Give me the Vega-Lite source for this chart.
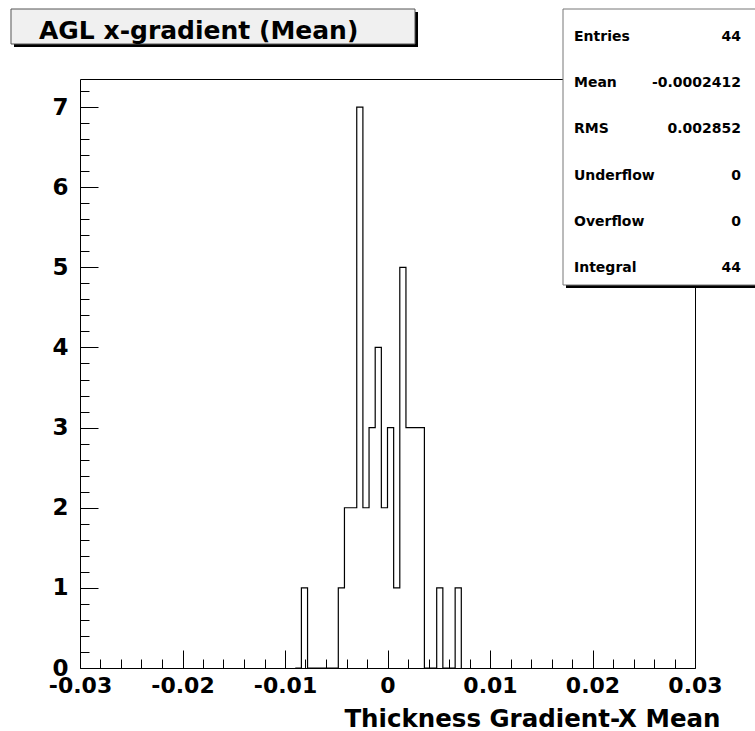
{
  "$schema": "https://vega.github.io/schema/vega-lite/v6.json",
  "width": 615,
  "height": 589,
  "autosize": {"type": "none"},
  "padding": {"left": 80, "top": 79, "right": 60, "bottom": 63},
  "background": "white",
  "config": {
    "view": {"stroke": "black", "strokeWidth": 1},
    "font": "DejaVu Sans"
  },
  "resolve": {"axis": {"x": "independent", "y": "independent"}},
  "layer": [
    {
      "data": {"values": [
        {"x": -0.0090, "n": 0},
        {"x": -0.0084, "n": 1},
        {"x": -0.0078, "n": 0},
        {"x": -0.0072, "n": 0},
        {"x": -0.0066, "n": 0},
        {"x": -0.0060, "n": 0},
        {"x": -0.0054, "n": 0},
        {"x": -0.0048, "n": 1},
        {"x": -0.0042, "n": 2},
        {"x": -0.0036, "n": 2},
        {"x": -0.0030, "n": 7},
        {"x": -0.0024, "n": 2},
        {"x": -0.0018, "n": 3},
        {"x": -0.0012, "n": 4},
        {"x": -0.0006, "n": 2},
        {"x": 0.0000, "n": 3},
        {"x": 0.0006, "n": 1},
        {"x": 0.0012, "n": 5},
        {"x": 0.0018, "n": 3},
        {"x": 0.0024, "n": 3},
        {"x": 0.0030, "n": 3},
        {"x": 0.0036, "n": 0},
        {"x": 0.0042, "n": 0},
        {"x": 0.0048, "n": 1},
        {"x": 0.0054, "n": 0},
        {"x": 0.0060, "n": 0},
        {"x": 0.0066, "n": 1},
        {"x": 0.0072, "n": 0}
      ]},
      "mark": {"type": "line", "interpolate": "step-after", "color": "black", "strokeWidth": 1.2},
      "encoding": {
        "x": {
          "field": "x", "type": "quantitative",
          "scale": {"domain": [-0.03, 0.03], "nice": false, "zero": false},
          "axis": {
            "title": "Thickness Gradient-X Mean",
            "titleFont": "DejaVu Sans", "titleFontWeight": "bold", "titleFontSize": 24.5, "titleColor": "black",
            "titleAnchor": "end", "titleAlign": "right", "titleBaseline": "alphabetic",
            "titleX": 640, "titleY": 58,
            "domain": false, "grid": false,
            "values": [-0.03, -0.028, -0.026, -0.024, -0.022, -0.02, -0.018, -0.016, -0.014, -0.012, -0.01, -0.008, -0.006, -0.004, -0.002, 0, 0.002, 0.004, 0.006, 0.008, 0.01, 0.012, 0.014, 0.016, 0.018, 0.02, 0.022, 0.024, 0.026, 0.028, 0.03],
            "tickColor": "black", "tickWidth": 1,
            "tickSize": {"condition": {"test": "abs(datum.value*100 - round(datum.value*100)) < 1e-6", "value": -18}, "value": -9},
            "labelPadding": 25,
            "labelExpr": "abs(datum.value*100 - round(datum.value*100)) < 1e-6 ? (abs(datum.value) < 1e-9 ? '0' : (datum.value < 0 ? '-' : '') + format(abs(datum.value), '.2f')) : ''",
            "labelFont": "DejaVu Sans", "labelFontWeight": "bold", "labelFontSize": 22, "labelColor": "black",
            "labelOverlap": false, "labelFlush": false, "labelBound": false
          }
        },
        "y": {
          "field": "n", "type": "quantitative",
          "scale": {"domain": [0, 7.35], "nice": false, "zero": true},
          "axis": {
            "title": null,
            "domain": false, "grid": false,
            "values": [0, 0.2, 0.4, 0.6, 0.8, 1, 1.2, 1.4, 1.6, 1.8, 2, 2.2, 2.4, 2.6, 2.8, 3, 3.2, 3.4, 3.6, 3.8, 4, 4.2, 4.4, 4.6, 4.8, 5, 5.2, 5.4, 5.6, 5.8, 6, 6.2, 6.4, 6.6, 6.8, 7, 7.2],
            "tickColor": "black", "tickWidth": 1,
            "tickSize": {"condition": {"test": "abs(datum.value - round(datum.value)) < 1e-6", "value": -18}, "value": -9},
            "labelPadding": 30,
            "labelExpr": "abs(datum.value - round(datum.value)) < 1e-6 ? format(datum.value, 'd') : ''",
            "labelFont": "DejaVu Sans", "labelFontWeight": "bold", "labelFontSize": 23, "labelColor": "black",
            "labelOverlap": false, "labelFlush": false, "labelBound": false
          }
        }
      }
    },
    {
      "data": {"values": [{}]},
      "mark": {"type": "rect", "color": "black"},
      "encoding": {
        "x": {"datum": -0.036439, "type": "quantitative", "axis": null},
        "x2": {"datum": 0.002976},
        "y": {"datum": 8.1861, "type": "quantitative", "axis": null},
        "y2": {"datum": 7.7493}
      }
    },
    {
      "data": {"values": [{}]},
      "mark": {"type": "rect", "fill": "#f0f0f0", "stroke": "#555555", "strokeWidth": 1},
      "encoding": {
        "x": {"datum": -0.036732, "type": "quantitative", "axis": null},
        "x2": {"datum": 0.002683},
        "y": {"datum": 8.2235, "type": "quantitative", "axis": null},
        "y2": {"datum": 7.7867}
      }
    },
    {
      "data": {"values": [{}]},
      "mark": {"type": "text", "text": "AGL x-gradient (Mean)", "font": "DejaVu Sans", "fontWeight": "bold", "fontSize": 25, "color": "black", "align": "left", "baseline": "alphabetic"},
      "encoding": {
        "x": {"datum": -0.034, "type": "quantitative", "axis": null},
        "y": {"datum": 7.8491, "type": "quantitative", "axis": null}
      }
    },
    {
      "data": {"values": [{}]},
      "mark": {"type": "rect", "color": "black"},
      "encoding": {
        "x": {"datum": 0.017415, "type": "quantitative", "axis": null},
        "x2": {"datum": 0.036634},
        "y": {"datum": 8.1861, "type": "quantitative", "axis": null},
        "y2": {"datum": 4.7419}
      }
    },
    {
      "data": {"values": [{}]},
      "mark": {"type": "rect", "fill": "white", "stroke": "#777777", "strokeWidth": 1},
      "encoding": {
        "x": {"datum": 0.017122, "type": "quantitative", "axis": null},
        "x2": {"datum": 0.036341},
        "y": {"datum": 8.2235, "type": "quantitative", "axis": null},
        "y2": {"datum": 4.7794}
      }
    },
    {
      "data": {"values": [{}]},
      "mark": {"type": "text", "text": ["Entries", "Mean", "RMS", "Underflow", "Overflow", "Integral"], "lineHeight": 46.2, "font": "DejaVu Sans", "fontWeight": "bold", "fontSize": 14, "color": "black", "align": "left", "baseline": "alphabetic"},
      "encoding": {
        "x": {"datum": 0.018195, "type": "quantitative", "axis": null},
        "y": {"datum": 7.8242, "type": "quantitative", "axis": null}
      }
    },
    {
      "data": {"values": [{}]},
      "mark": {"type": "text", "text": ["44", "-0.0002412", "0.002852", "0", "0", "44"], "lineHeight": 46.2, "font": "DejaVu Sans", "fontWeight": "bold", "fontSize": 14, "color": "black", "align": "right", "baseline": "alphabetic"},
      "encoding": {
        "x": {"datum": 0.034488, "type": "quantitative", "axis": null},
        "y": {"datum": 7.8242, "type": "quantitative", "axis": null}
      }
    }
  ]
}
